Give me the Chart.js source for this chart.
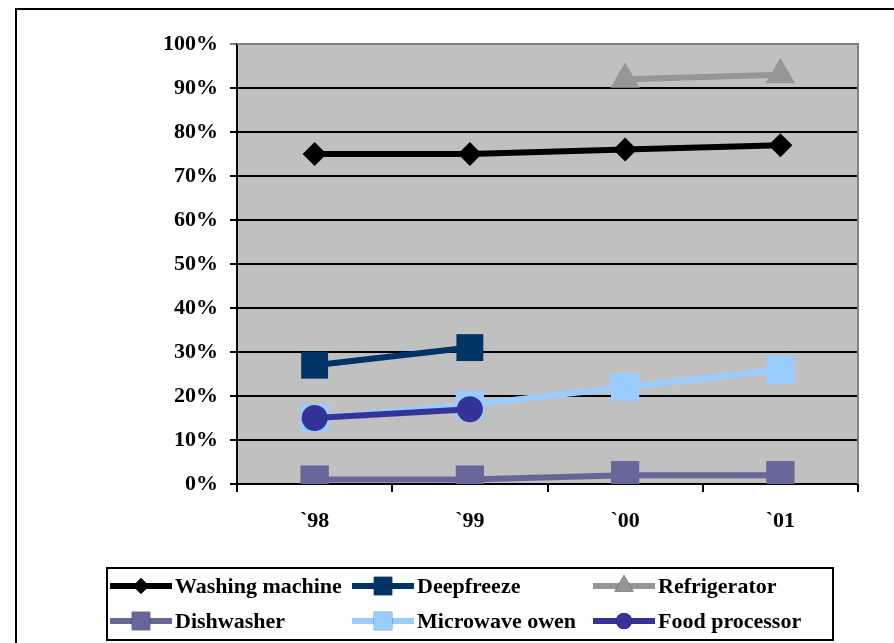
<!DOCTYPE html>
<html>
<head>
<meta charset="utf-8">
<script src="https://cdn.jsdelivr.net/npm/chart.js@4"></script>
<style>
  html, body { margin: 0; padding: 0; background: #fff; }
  #wrap { width: 894px; height: 643px; position: relative; }
</style>
</head>
<body>
<div id="wrap"><canvas id="appliances"></canvas></div>
<script>
// household appliance ownership, share of households
const years = ['`98', '`99', '`00', '`01'];
const washingMachine = [75, 75, 76, 77];
const deepfreeze = [27, 31, null, null];
const refrigerator = [null, null, 92, 93];
const dishwasher = [1, 1, 2, 2];
const microwave = [15, 18, 22, 26];
const foodProcessor = [15, 17, null, null];
const yTicks = [0, 10, 20, 30, 40, 50, 60, 70, 80, 90, 100];

const FONT = '"Liberation Serif", "Times New Roman", serif';

const series = [
  { label: 'Washing machine', data: washingMachine, color: '#000000', style: 'rectRot', r: 12, lr: 8 },
  { label: 'Deepfreeze', data: deepfreeze, color: '#003366', style: 'rect', r: 19, lr: 13 },
  { label: 'Refrigerator', data: refrigerator, color: '#969696', style: 'triangle', r: 17, lr: 11 },
  { label: 'Dishwasher', data: dishwasher, color: '#666699', style: 'rect', r: 20, lr: 13 },
  { label: 'Microwave owen', data: microwave, color: '#99CCFF', style: 'rect', r: 20, lr: 13 },
  { label: 'Food processor', data: foodProcessor, color: '#333399', style: 'circle', r: 13, lr: 8 }
];

// gray plot background, gray top/right edge, outer frame and the boxed legend
const framePlugin = {
  id: 'frame',
  beforeDraw(chart) {
    const { ctx, chartArea: a } = chart;
    ctx.save();
    ctx.fillStyle = '#C0C0C0';
    ctx.fillRect(a.left, a.top, a.right - a.left, a.bottom - a.top);
    ctx.restore();
  },
  afterDraw(chart) {
    const { ctx, chartArea: a } = chart;
    ctx.save();
    ctx.strokeStyle = '#808080';
    ctx.lineWidth = 2;
    ctx.beginPath();
    ctx.moveTo(a.left, a.top);
    ctx.lineTo(a.right, a.top);
    ctx.lineTo(a.right, a.bottom);
    ctx.stroke();

    ctx.strokeStyle = '#000';
    ctx.lineWidth = 2;
    ctx.strokeRect(16, 9, 900, 660);

    // legend box
    ctx.strokeRect(107, 568, 726, 72);
    const cols = [110, 352, 593];
    const rows = [586, 621];
    ctx.font = 'bold 22px ' + FONT;
    ctx.textBaseline = 'middle';
    ctx.textAlign = 'left';
    series.forEach((s, i) => {
      const x = cols[i % 3];
      const y = rows[Math.floor(i / 3)];
      ctx.strokeStyle = s.color;
      ctx.lineWidth = 6;
      ctx.beginPath();
      ctx.moveTo(x, y);
      ctx.lineTo(x + 62, y);
      ctx.stroke();
      Chart.helpers.drawPoint(ctx, {
        pointStyle: s.style, radius: s.lr, rotation: 0, borderWidth: 0
      }, x + 31, y);
      ctx.fillStyle = s.color;
      ctx.fill();
      ctx.fillStyle = '#000';
      ctx.fillText(s.label, x + 65, y + 1);
    });
    ctx.restore();
  }
};

new Chart(document.getElementById('appliances'), {
  type: 'line',
  data: {
    labels: years,
    datasets: series.map((s, i) => ({
      label: s.label,
      data: s.data,
      borderColor: s.color,
      backgroundColor: s.color,
      borderWidth: 6,
      pointStyle: s.style,
      pointRadius: s.r,
      pointBorderWidth: 0,
      pointBackgroundColor: s.color,
      spanGaps: false,
      tension: 0,
      order: series.length - i
    }))
  },
  options: {
    responsive: true,
    maintainAspectRatio: false,
    animation: false,
    layout: { padding: { top: 44, right: 36, left: 0, bottom: 0 } },
    plugins: { legend: { display: false }, tooltip: { enabled: false } },
    scales: {
      x: {
        offset: true,
        afterFit(scale) { scale.height = 159; },
        grid: { offset: true, drawOnChartArea: false, drawTicks: true, tickLength: 8, color: '#000', lineWidth: 2 },
        border: { color: '#000', width: 2 },
        ticks: { color: '#000', font: { family: FONT, size: 22, weight: 'bold' }, padding: 16 }
      },
      y: {
        min: 0,
        max: 100,
        afterFit(scale) { scale.width = 237; },
        afterBuildTicks(scale) { scale.ticks = yTicks.map(v => ({ value: v })); },
        grid: {
          color: ctx => (ctx.tick && ctx.tick.value === 100 ? '#808080' : '#000'),
          lineWidth: 2,
          tickLength: 7
        },
        border: { color: '#000', width: 2 },
        ticks: {
          color: '#000',
          padding: 12,
          font: { family: FONT, size: 22, weight: 'bold' },
          callback: v => v + '%'
        }
      }
    }
  },
  plugins: [framePlugin]
});
</script>
</body>
</html>
